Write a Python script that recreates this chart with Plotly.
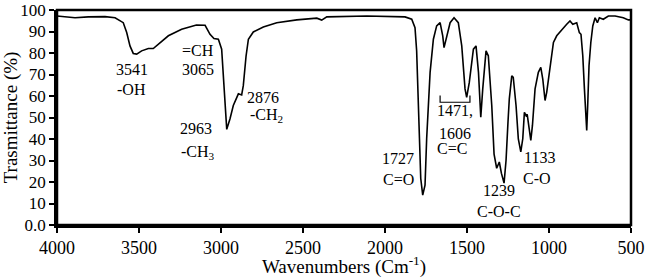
import plotly.graph_objects as go

# IR spectrum
wavenumber = [4000, 3950, 3890, 3809, 3707, 3646, 3596, 3575, 3555, 3535, 3514, 3484, 3443, 3413,
              3382, 3321, 3240, 3150, 3097, 3067, 3043, 3016, 2996, 2986, 2976, 2965, 2945, 2925,
              2894, 2874, 2864, 2847, 2833, 2803, 2742, 2660, 2538, 2416, 2386, 2355, 2111, 1949,
              1878, 1837, 1817, 1807, 1797, 1790, 1782, 1770, 1756, 1746, 1725, 1705, 1685, 1664,
              1648, 1640, 1624, 1603, 1579, 1553, 1532, 1512, 1502, 1486, 1461, 1445, 1430, 1416,
              1404, 1384, 1370, 1349, 1335, 1319, 1303, 1290, 1274, 1262, 1250, 1242, 1227, 1218,
              1201, 1187, 1172, 1160, 1150, 1140, 1133, 1122, 1111, 1101, 1085, 1065, 1050, 1038,
              1024, 1014, 994, 973, 953, 922, 892, 872, 855, 831, 815, 805, 794, 784, 774, 770,
              764, 756, 745, 733, 719, 705, 693, 669, 638, 597, 547, 516, 500]
transmittance = [97.2, 96.8, 96.4, 96.8, 96.9, 96.4, 94.1, 89.5, 83.3, 79.8, 79.5, 81.0, 82.1, 82.1,
                 84.1, 88.0, 91.0, 93.0, 92.9, 88.7, 86.7, 86.4, 81.8, 71.0, 55.6, 44.5, 49.4, 55.6,
                 61.0, 60.5, 64.8, 78.7, 86.4, 89.8, 92.1, 94.1, 95.4, 96.2, 95.3, 96.8, 97.2, 96.8,
                 96.8, 95.7, 91.8, 81.0, 57.9, 40.0, 21.6, 13.9, 18.5, 40.1, 71.0, 86.4, 92.6, 94.1,
                 88.0, 82.5, 87.2, 94.1, 96.4, 94.1, 83.3, 63.3, 59.4, 66.3, 81.8, 83.3, 71.0, 50.1,
                 63.3, 81.0, 78.7, 55.6, 33.0, 26.4, 29.3, 24.0, 19.5, 30.0, 48.0, 58.7, 69.4, 68.7,
                 55.6, 40.1, 34.0, 40.1, 52.4, 50.9, 51.5, 46.3, 39.4, 46.3, 63.3, 71.0, 73.3, 67.9,
                 57.9, 61.7, 74.1, 84.9, 88.0, 91.0, 93.4, 94.9, 93.4, 94.1, 89.5, 88.7, 78.7, 63.3,
                 52.4, 44.0, 55.6, 74.1, 84.9, 92.6, 96.4, 94.1, 96.4, 95.7, 97.2, 97.2, 96.4, 95.4, 95.4]

# peak labels: text, x (cm-1), y (%)
label_text = ["3541", "-OH", "=CH", "3065", "2876", "-CH<sub>2</sub>", "2963", "-CH<sub>3</sub>",
              "1471,", "1606", "C=C", "1727", "C=O", "1133", "C-O", "1239", "C-O-C"]
label_x = [3545, 3545, 3138, 3138, 2742, 2720, 3152, 3140,
           1573, 1573, 1593, 1919, 1919, 1055, 1071, 1305, 1303]
label_y = [72.5, 62.8, 81.0, 72.5, 59.4, 50.9, 44.8, 33.9,
           53.2, 42.5, 35.5, 30.9, 21.2, 31.6, 21.6, 16.2, 6.2]

ytick_vals = [0, 10, 20, 30, 40, 50, 60, 70, 80, 90, 100]
ytick_text = ["0.0", "10", "20", "30", "40", "50", "60", "70", "80", "90", "100"]
xtick_vals = [4000, 3500, 3000, 2500, 2000, 1500, 1000, 500]

serif = "Liberation Serif"

fig = go.Figure()
fig.add_trace(go.Scatter(x=wavenumber, y=transmittance, mode="lines",
                         line=dict(color="black", width=1.6), showlegend=False))

for t, x, y in zip(label_text, label_x, label_y):
    fig.add_annotation(x=x, y=y, text=t, showarrow=False,
                       font=dict(family=serif, size=16, color="black"))

# bracket over 1471/1606
fig.add_shape(type="path", path="M 1664 60.2 L 1664 57.1 L 1482 57.1 L 1482 60.2",
              line=dict(color="black", width=1.2))

# frame round the plot area
fig.add_shape(type="rect", xref="paper", yref="paper", x0=0, x1=1, y0=0, y1=1,
              line=dict(color="black", width=2.5), layer="above")

fig.update_layout(
    width=645, height=278,
    margin=dict(l=57, r=14, t=10, b=53),
    paper_bgcolor="white", plot_bgcolor="white",
    font=dict(family=serif, color="black"),
)
fig.update_xaxes(range=[4000, 500], tickvals=xtick_vals, ticks="outside", ticklen=5,
                 tickwidth=2, tickcolor="black", showline=True, linewidth=2.5, linecolor="black",
                 showgrid=False, zeroline=False, automargin=False,
                 tickfont=dict(family=serif, size=18),
                 title=dict(text="Wavenumbers (Cm<sup>-1</sup>)", font=dict(family=serif, size=19),
                            standoff=0))
fig.update_yaxes(range=[0, 100], tickvals=ytick_vals, ticktext=ytick_text, ticks="outside",
                 ticklen=5, tickwidth=2, tickcolor="black", showline=True, linewidth=2.5,
                 linecolor="black", showgrid=False, zeroline=False, automargin=False,
                 tickfont=dict(family=serif, size=17),
                 title=dict(text="Trasmittance (%)", font=dict(family=serif, size=19), standoff=0))

fig.write_html("out.html", config={"displayModeBar": False},
               post_script="document.body.style.margin='0';")
